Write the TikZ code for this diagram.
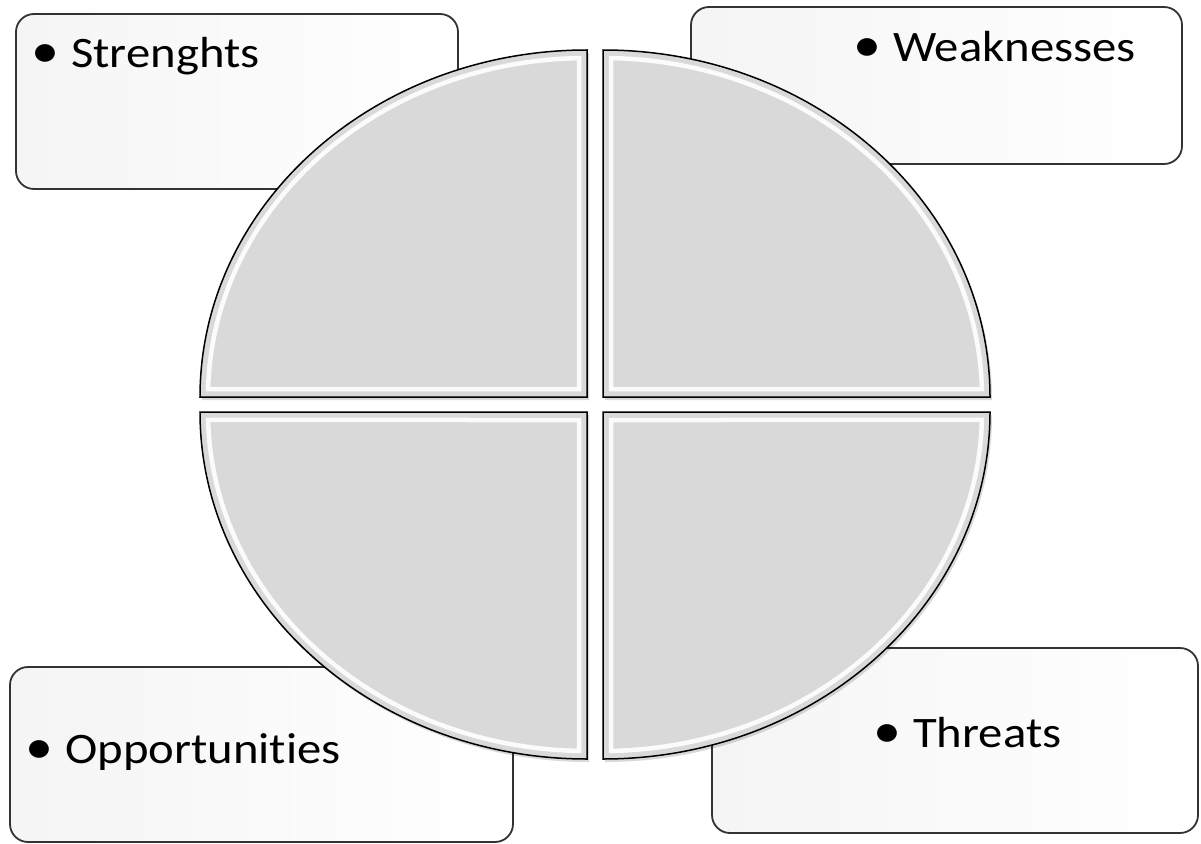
\documentclass[tikz,border=0pt]{standalone}
\usepackage{fontspec}
\setmainfont{Carlito}[FakeStretch=1.12,Ligatures=NoCommon,RawFeature=-liga]
\begin{document}
\begin{tikzpicture}[x=1pt,y=-1pt,
  infobox/.style={draw=black!80, line width=1.8pt, rounded corners=18pt, left color=black!4, right color=white},
  quad/.style={draw=black, line width=1.5pt, fill=black!15, line join=miter},
  quadshadow/.style={fill=black, opacity=0.15},
  bevel/.style={draw=white, line width=4.5pt, opacity=0.9, line join=miter},
  lab/.style={anchor=base west, inner sep=0pt, font=\fontsize{43.5}{50}\selectfont, text=black}]
\useasboundingbox (0,0) rectangle (1201,843);
\fill[white] (0,0) rectangle (1201,843);
% boxes
\draw[infobox] (16,14) rectangle (458,189);
\draw[infobox] (691,7) rectangle (1182,164);
\draw[infobox] (10,667) rectangle (513,842);
\draw[infobox] (712,648) rectangle (1198,833);
% shadows
\begin{scope}[shift={(2,3)}]
\path[quadshadow] (587,397) -- ++(-387,0) arc[start angle=180,end angle=90,x radius=387pt,y radius=347pt] -- cycle;
\path[quadshadow] (603,397) -- ++(0,-347) arc[start angle=90,end angle=0,x radius=387pt,y radius=347pt] -- cycle;
\path[quadshadow] (587,412) -- ++(-387,0) arc[start angle=180,end angle=270,x radius=387pt,y radius=347pt] -- cycle;
\path[quadshadow] (603,412) -- ++(387,0) arc[start angle=0,end angle=-90,x radius=387pt,y radius=347pt] -- cycle;
\end{scope}
% quadrants
\path[quad] (587,397) -- ++(-387,0) arc[start angle=180,end angle=90,x radius=387pt,y radius=347pt] -- cycle;
\path[quad] (603,397) -- ++(0,-347) arc[start angle=90,end angle=0,x radius=387pt,y radius=347pt] -- cycle;
\path[quad] (587,412) -- ++(-387,0) arc[start angle=180,end angle=270,x radius=387pt,y radius=347pt] -- cycle;
\path[quad] (603,412) -- ++(387,0) arc[start angle=0,end angle=-90,x radius=387pt,y radius=347pt] -- cycle;
% bevels
\path[bevel] (587,397) ++(178.65:379pt and 339pt) arc[start angle=178.65,end angle=91.21,x radius=379pt,y radius=339pt] -- (579,389) -- cycle;
\path[bevel] (603,397) ++(88.79:379pt and 339pt) arc[start angle=88.79,end angle=1.35,x radius=379pt,y radius=339pt] -- (611,389) -- cycle;
\path[bevel] (587,412) ++(181.35:379pt and 339pt) arc[start angle=181.35,end angle=268.79,x radius=379pt,y radius=339pt] -- (579,420) -- cycle;
\path[bevel] (603,412) ++(-1.35:379pt and 339pt) arc[start angle=-1.35,end angle=-88.79,x radius=379pt,y radius=339pt] -- (611,420) -- cycle;
% labels
\node[lab] (s) at (71,67) {\llap{\scalebox{1.15}{\textbullet}\hspace{12pt}}Strenghts};
\node[lab] (w) at (893,62) {\llap{\scalebox{1.15}{\textbullet}\hspace{12pt}}Weaknesses};
\node[lab] (o) at (65,763) {\llap{\scalebox{1.15}{\textbullet}\hspace{12pt}}Opportunities};
\node[lab] (t) at (913,747) {\llap{\scalebox{1.15}{\textbullet}\hspace{12pt}}Threats};
\end{tikzpicture}
\end{document}
